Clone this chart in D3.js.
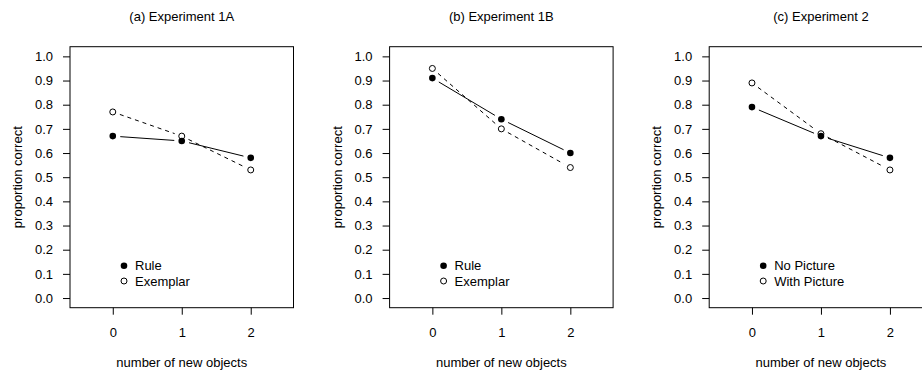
<html>
<head>
<script src="https://d3js.org/d3.v7.min.js"></script>
<style>
  body { margin: 0; background: #fff; }
  text { font-family: "Liberation Sans", Arial, Helvetica, sans-serif; }
</style>
</head>
<body>
<div id="chart">
  <svg width="922" height="373"></svg>
</div>
<script>
var svg = d3.select('#chart svg')

// data
var titles = ["(a) Experiment 1A", "(b) Experiment 1B", "(c) Experiment 2"]
var newObjects = [0, 1, 2]
var legendNames = [["Rule", "Exemplar"], ["Rule", "Exemplar"], ["No Picture", "With Picture"]]
var filledSeries = [[0.67, 0.65, 0.58], [0.91, 0.74, 0.60], [0.79, 0.67, 0.58]]
var openSeries = [[0.77, 0.67, 0.53], [0.95, 0.70, 0.54], [0.89, 0.68, 0.53]]
var yTicks = [0, 0.1, 0.2, 0.3, 0.4, 0.5, 0.6, 0.7, 0.8, 0.9, 1.0]

var boxW = 223.5, plotTop = 46.7, plotBottom = 307.7
var gap = 7.5 // R type="b" leaves a gap round each point

// draw segments between points with the gaps
function gappedSegments(g, pts, dash) {
    for (var i = 0; i < pts.length - 1; i++) {
        var a = pts[i], b = pts[i + 1]
        var dx = b[0] - a[0], dy = b[1] - a[1]
        var len = Math.sqrt(dx * dx + dy * dy)
        if (len <= 2 * gap) continue
        var ux = dx / len, uy = dy / len
        g.append('line')
            .attr('x1', a[0] + ux * gap).attr('y1', a[1] + uy * gap)
            .attr('x2', b[0] - ux * gap).attr('y2', b[1] - uy * gap)
            .attr('stroke', '#000')
            .attr('stroke-width', 1)
            .attr('stroke-dasharray', dash)
    }
}

titles.forEach(function(title, p) {
    var left = 70 + p * 319.6
    var x = d3.scaleLinear().domain([-0.62, 2.62]).range([left, left + boxW])
    var y = d3.scaleLinear().domain([-0.04, 1.04]).range([plotBottom, plotTop])

    var g = svg.append('g')

    // title
    g.append('text')
        .attr('x', left + boxW / 2).attr('y', 21)
        .attr('text-anchor', 'middle')
        .style('font-size', '13px')
        .text(title)

    // y axis
    var yAxis = d3.axisLeft(y).tickValues(yTicks).tickFormat(d3.format('.1f'))
        .tickSize(7).tickPadding(10)
    var ya = g.append('g').attr('transform', 'translate(' + left + ',0)').call(yAxis)
    ya.select('.domain').remove()
    ya.selectAll('text').style('font-size', '13px').attr('font-family', null).style('fill', '#000')
    ya.selectAll('line').attr('stroke', '#000')

    // x axis
    var xAxis = d3.axisBottom(x).tickValues(newObjects).tickFormat(d3.format('d'))
        .tickSize(7).tickPadding(13)
    var xa = g.append('g').attr('transform', 'translate(0,' + plotBottom + ')').call(xAxis)
    xa.select('.domain').remove()
    xa.selectAll('text').style('font-size', '13px').attr('font-family', null).style('fill', '#000')
    xa.selectAll('line').attr('stroke', '#000')

    // box
    g.append('rect')
        .attr('x', left).attr('y', plotTop)
        .attr('width', boxW).attr('height', plotBottom - plotTop)
        .attr('fill', 'none').attr('stroke', '#000').attr('stroke-width', 1)

    // axis titles
    g.append('text')
        .attr('x', left + boxW / 2).attr('y', 367)
        .attr('text-anchor', 'middle')
        .style('font-size', '13px')
        .text('number of new objects')
    g.append('text')
        .attr('transform', 'translate(' + (left - 48) + ',' + ((plotTop + plotBottom) / 2) + ') rotate(-90)')
        .attr('text-anchor', 'middle')
        .style('font-size', '13px')
        .text('proportion correct')

    // lines
    var filledPts = newObjects.map(function(d, i) { return [x(d), y(filledSeries[p][i])] })
    var openPts = newObjects.map(function(d, i) { return [x(d), y(openSeries[p][i])] })
    gappedSegments(g, openPts, '4,4')
    gappedSegments(g, filledPts, null)

    // points
    g.selectAll('circle.open')
        .data(openPts).enter().append('circle').classed('open', true)
        .attr('cx', function(d) { return d[0] }).attr('cy', function(d) { return d[1] })
        .attr('r', 3).attr('fill', '#fff').attr('stroke', '#000').attr('stroke-width', 1)
    g.selectAll('circle.filled')
        .data(filledPts).enter().append('circle').classed('filled', true)
        .attr('cx', function(d) { return d[0] }).attr('cy', function(d) { return d[1] })
        .attr('r', 3.3).attr('fill', '#000')

    // legend
    var lx = left + 54, ly = 265.7
    legendNames[p].forEach(function(name, k) {
        var cy = ly + k * 15.3
        g.append('circle')
            .attr('cx', lx).attr('cy', cy)
            .attr('r', k === 0 ? 3.3 : 3)
            .attr('fill', k === 0 ? '#000' : '#fff')
            .attr('stroke', '#000').attr('stroke-width', k === 0 ? 0 : 1)
        g.append('text')
            .attr('x', lx + 11).attr('y', cy + 4.6)
            .style('font-size', '13px')
            .text(name)
    })
})
</script>
</body>
</html>
